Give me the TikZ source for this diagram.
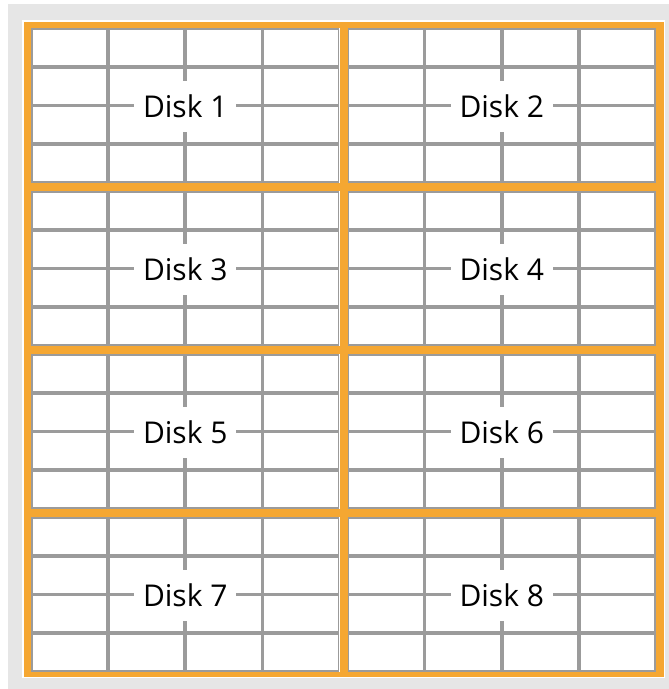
\documentclass[tikz,border=0pt]{standalone}
\usepackage{fontspec}
\setmainfont{Open Sans}
\definecolor{panelgray}{RGB}{230,230,230}
\definecolor{diskorange}{RGB}{245,167,50}
\definecolor{cellgray}{RGB}{155,155,155}
\begin{document}
\begin{tikzpicture}[x=1pt, y=-1pt,
  cell/.style={draw=cellgray, line width=1.8pt},
  disklabel/.style={fill=white, inner sep=0pt, minimum width=102pt, minimum height=51pt, font=\fontsize{30}{32}\selectfont}]
  \useasboundingbox (0,0) rectangle (669,689);
  \fill[white] (0,0) rectangle (669,689);
  \fill[panelgray] (8,4) rectangle (669,689);
  \fill[white] (22,20) rectangle (665,678);
  \fill[diskorange] (24,22) rectangle (664,677);

  % 4 x 2 disks, each a 4 x 4 block of cells
  \foreach \r in {0,...,3} {
    \foreach \c in {0,1} {
      \pgfmathsetmacro{\dx}{31+\c*316.5}
      \pgfmathsetmacro{\dy}{28+\r*163}
      \pgfmathtruncatemacro{\n}{2*\r+\c+1}
      \fill[white] (\dx,\dy) rectangle ++(308.5,155);
      \foreach \i in {0,...,3} \foreach \j in {0,...,3}
        \draw[cell] ({\dx+\i*77.125+0.9},{\dy+\j*38.75+0.9}) rectangle ++(75.3,36.95);
      \node[disklabel] (disk\n) at ({\dx+154.25},{\dy+78.5}) {Disk \n};
    }
  }
\end{tikzpicture}
\end{document}
